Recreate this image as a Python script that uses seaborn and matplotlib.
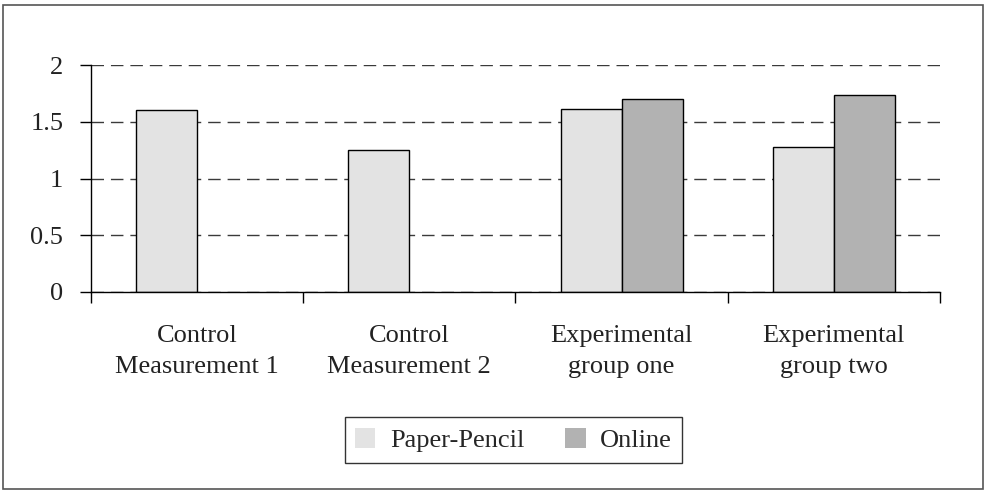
import pandas as pd
import matplotlib.pyplot as plt
import seaborn as sns
from matplotlib.patches import Rectangle

# --- Data ---
groups = ['Control\nMeasurement 1', 'Control\nMeasurement 2',
          'Experimental\ngroup one', 'Experimental\ngroup two']
paper_pencil = [1.60, 1.25, 1.61, 1.275]
online = [None, None, 1.70, 1.74]
series_names = ['Paper-Pencil', 'Online']
series_colors = ['#e3e3e3', '#b2b2b2']

rows = []
for g, pp, on in zip(groups, paper_pencil, online):
    rows.append({'group': g, 'mode': series_names[0], 'score': pp})
    if on is not None:
        rows.append({'group': g, 'mode': series_names[1], 'score': on})
df = pd.DataFrame(rows)

sns.set_style('white')
plt.rcParams['font.family'] = ['Liberation Serif', 'DejaVu Serif']
FS = 19

fig = plt.figure(figsize=(9.88, 4.91), dpi=100)
ax = fig.add_axes([0.0921, 0.4053, 0.8593, 0.4623])

sns.barplot(data=df, x='group', y='score', hue='mode', order=groups,
            hue_order=series_names, palette=series_colors, width=0.575,
            edgecolor='black', linewidth=1.0, ax=ax, legend=False)

# --- Axes styling ---
ax.set_ylim(0, 2)
ax.set_xlim(-0.5, 3.5)
ax.set_yticks([0, 0.5, 1, 1.5, 2])
ax.set_yticklabels(['0', '0.5', '1', '1.5', '2'], fontsize=FS, color='#222222')
ax.set_xticks([-0.5, 0.5, 1.5, 2.5, 3.5], minor=False)
ax.set_xticklabels([])
ax.set_xticks([0, 1, 2, 3], minor=True)
ax.set_xticklabels(groups, minor=True, fontsize=FS, color='#222222',
                   linespacing=1.5)
ax.tick_params(axis='x', which='minor', bottom=False, length=0, pad=24)
ax.tick_params(axis='x', which='major', bottom=True, length=8, width=1,
               color='black', direction='out')
ax.tick_params(axis='y', left=True, length=8, width=1, color='black',
               direction='out', pad=12)
ax.set_xlabel('')
ax.set_ylabel('')

ax.yaxis.grid(True, linestyle=(0, (9, 5)), color='#3a3a3a', linewidth=1.0)
ax.set_axisbelow(True)
for s in ['top', 'right']:
    ax.spines[s].set_visible(False)
for s in ['left', 'bottom']:
    ax.spines[s].set_color('black')
    ax.spines[s].set_linewidth(1.0)

# --- Legend ---
handles = [Rectangle((0, 0), 1, 1, facecolor=c, edgecolor='none')
           for c in series_colors]
leg = fig.legend(handles, series_names, loc='center',
                 bbox_to_anchor=(513.5 / 988, 1 - 440 / 491), ncol=2,
                 fontsize=FS, frameon=True, fancybox=False,
                 handlelength=0.77, handleheight=0.77, columnspacing=1.55,
                 handletextpad=0.55, borderpad=0.4, borderaxespad=0)
leg.get_frame().set_edgecolor('black')
leg.get_frame().set_linewidth(1.0)

# --- Outer border ---
fig.patches.append(Rectangle((3 / 988, 2 / 491), 980 / 988, 484 / 491,
                             transform=fig.transFigure, fill=False,
                             edgecolor='#555555', linewidth=1.2))

plt.savefig('out.png', dpi=100)
plt.close(fig)
